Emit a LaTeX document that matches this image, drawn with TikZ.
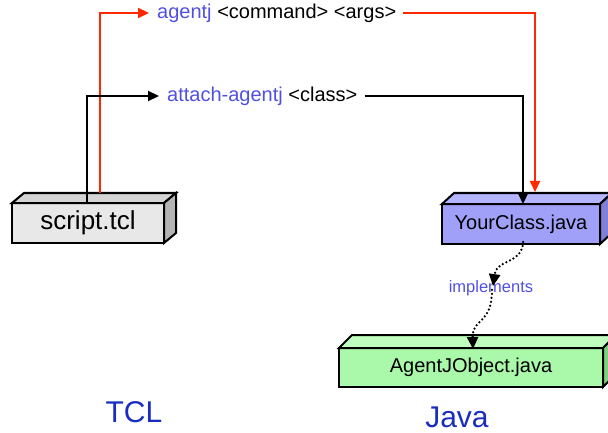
\documentclass[tikz,border=0pt]{standalone}
\usepackage{fontspec}
\setmainfont{Liberation Sans}
\usetikzlibrary{arrows.meta}
\definecolor{lblue}{RGB}{80,80,225}
\definecolor{dblue}{RGB}{25,45,190}
\definecolor{ared}{RGB}{255,40,0}
\definecolor{gfront}{RGB}{232,232,232}
\definecolor{gtop}{RGB}{212,212,212}
\definecolor{gside}{RGB}{180,180,180}
\definecolor{bfront}{RGB}{160,160,248}
\definecolor{btop}{RGB}{180,180,255}
\definecolor{bside}{RGB}{128,128,216}
\definecolor{nfront}{RGB}{170,248,170}
\definecolor{ntop}{RGB}{192,255,192}
\definecolor{nside}{RGB}{128,208,128}
\tikzset{
  boxface/.style={draw=black, line width=2pt, line join=miter},
  frontbox/.style={boxface, inner sep=0pt, outer sep=0pt},
  conn/.style={line width=2.2pt, line join=miter, -{Triangle[length=11pt,width=10pt]}},
  lbl/.style={inner xsep=0pt, inner ysep=0pt, anchor=west, font=\fontsize{20}{24}\selectfont},
  dotarrow/.style={line width=2.5pt, dash pattern=on 0pt off 4pt, line cap=round, -{Triangle[length=12pt,width=11pt]}},
}
\begin{document}
\begin{tikzpicture}[x=1pt,y=-1pt]
\clip (0,0) rectangle (608,433);
% script.tcl box
\node[frontbox, fill=gfront, minimum width=152pt, minimum height=40pt, font=\fontsize{26}{30}\selectfont] (scr) at (88,223) {script.tcl};
\filldraw[boxface, fill=gtop] (scr.north west) -- ++(12,-10) -- ++(152,0) -- (scr.north east) -- cycle;
\filldraw[boxface, fill=gside] (scr.north east) -- ++(12,-10) -- ++(0,40) -- (scr.south east) -- cycle;
% YourClass.java box
\node[frontbox, fill=bfront, minimum width=158pt, minimum height=40pt, font=\fontsize{20}{24}\selectfont] (yc) at (521,224) {YourClass.java};
\filldraw[boxface, fill=btop] (yc.north west) -- ++(12,-11) -- ++(158,0) -- (yc.north east) -- cycle;
\filldraw[boxface, fill=bside] (yc.north east) -- ++(12,-11) -- ++(0,40) -- (yc.south east) -- cycle;
% AgentJObject.java box
\node[frontbox, fill=nfront, minimum width=264pt, minimum height=39pt, font=\fontsize{20}{24}\selectfont] (aj) at (471,367.5) {AgentJObject.java};
\filldraw[boxface, fill=ntop] (aj.north west) -- ++(13,-13) -- ++(264,0) -- (aj.north east) -- cycle;
\filldraw[boxface, fill=nside] (aj.north east) -- ++(13,-13) -- ++(0,39) -- (aj.south east) -- cycle;
% labels
\node[lbl] (lblA) at (157,13) {\textcolor{lblue}{agentj} <command> <args>};
\node[lbl] (lblB) at (167,96) {\textcolor{lblue}{attach-agentj} <class>};
\node[font=\fontsize{16.5}{20}\selectfont, text=lblue, inner sep=0pt] (impl) at (491,288) {implements};
\node[font=\fontsize{30}{36}\selectfont, text=dblue, inner sep=0pt] (tcl) at (134,412) {TCL};
\node[font=\fontsize{30}{36}\selectfont, text=dblue, inner sep=0pt] (java) at (457,417) {Java};
% anchor points
\coordinate (scrR) at ([xshift=12pt,yshift=10pt]scr.north);
\coordinate (ycR) at ([xshift=14pt,yshift=12pt]yc.north);
% red connector
\draw[conn, ared] (scrR) |- ([xshift=-8pt]lblA.west);
\draw[conn, ared] ([xshift=7pt]lblA.east) -| (ycR);
% black connector
\draw[conn, black] ([xshift=-1pt]scr.north) |- ([xshift=-8pt]lblB.west);
\draw[conn, black] ([xshift=7pt]lblB.east) -| ([xshift=2pt]yc.north);
% dotted implements arrows
\draw[dotarrow] ([xshift=2pt,yshift=2pt]yc.south) .. controls (522,265) and (497,258) .. ([xshift=2pt,yshift=-6pt]impl.north);
\draw[dotarrow] ([xshift=1pt,yshift=6pt]impl.south) .. controls (492,325) and (472,318) .. ([xshift=2pt,yshift=-1pt]aj.north);
\end{tikzpicture}
\end{document}
